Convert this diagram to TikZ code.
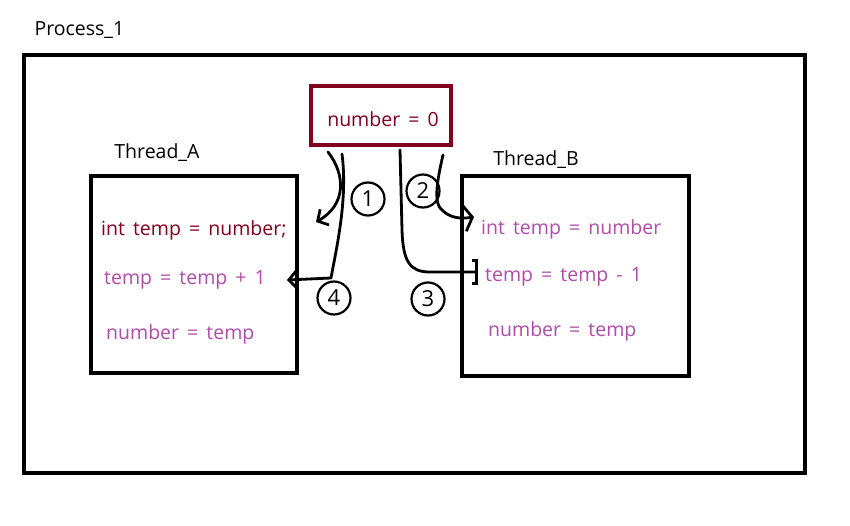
\documentclass[tikz,border=0pt]{standalone}
\usepackage{fontspec}
\setmainfont{Open Sans}[WordSpace=1.6]
\usetikzlibrary{arrows.meta}
\definecolor{wine}{RGB}{128,0,32}
\definecolor{plum}{RGB}{176,76,168}
\begin{document}
\begin{tikzpicture}[
  x=1pt,y=-1pt,every node/.style={font=\fontsize{19.5}{22}\selectfont},
  box/.style={draw,line width=4pt,inner sep=0pt},
  code/.style={anchor=west,text=plum,inner sep=0pt},
  pen/.style={line width=2.8pt,line cap=round,line join=round},
  barb/.style={-{Straight Barb[length=8pt,width=18pt,quick]}},
  bigbarb/.style={-{Straight Barb[length=8pt,width=26pt,quick]}},
  tag/.style={circle,draw,line width=2.2pt,inner sep=1pt,minimum size=33pt,
    font=\fontsize{22}{22}\selectfont}]
  \useasboundingbox (0,0) rectangle (850,526);
  % process frame and shared variable
  \node[anchor=west] (proc) at (31,30) {Process\_1};
  \draw[line width=4pt] (24,55) rectangle (805,473);
  \node[box,draw=wine,minimum width=140pt,minimum height=59pt]
    (num) at (381,115.5) {};
  \node[text=wine] (numtxt) at (383,119) {number = 0};

  % Thread_A
  \node (ta) at (157,153) {Thread\_A};
  \node[box,minimum width=206pt,minimum height=197pt] (abox) at (194,274.5) {};
  \node[code,text=wine] (a1) at (101,230) {int temp = number;};
  \node[code] (a2) at (104,280) {temp = temp + 1};
  \node[code] (a3) at (106,334) {number = temp};

  % Thread_B
  \node (tb) at (536,160) {Thread\_B};
  \node[box,minimum width=227pt,minimum height=200pt] (bbox) at (575.5,276) {};
  \node[code] (b1) at (481,229) {int temp = number};
  \node[code] (b2) at (485,277) {temp = temp - 1};
  \node[code] (b3) at (488,331) {number = temp};

  % hand-drawn order of access
  \draw[pen,barb] ([shift={(-53,5)}]num.south)
    .. controls (346,175) and (346,205) .. ([shift={(17,-52.5)}]abox.east);
  \draw[pen,bigbarb] ([shift={(62,8)}]num.south)
    .. controls (436,185) and (434,204) .. (442,210)
    .. controls (450,218) and (460,219) .. ([shift={(14,-59)}]bbox.west);
  \draw[pen,-{Bracket[length=5pt,width=25pt]}] ([shift={(19,3)}]num.south)
    -- (402,230) .. controls (403,262) and (410,272) .. (430,272)
    -- ([shift={(18,-4)}]bbox.west);
  \draw[pen,barb] ([shift={(-39,7)}]num.south)
    .. controls (348,200) and (336,250) .. (331,278)
    -- ([shift={(-12,5.5)}]abox.east);
  \node[tag] (n1) at (368,199) {1};
  \node[tag] (n2) at (423,191) {2};
  \node[tag] (n3) at (428,299) {3};
  \node[tag] (n4) at (334,298) {4};
\end{tikzpicture}
\end{document}
